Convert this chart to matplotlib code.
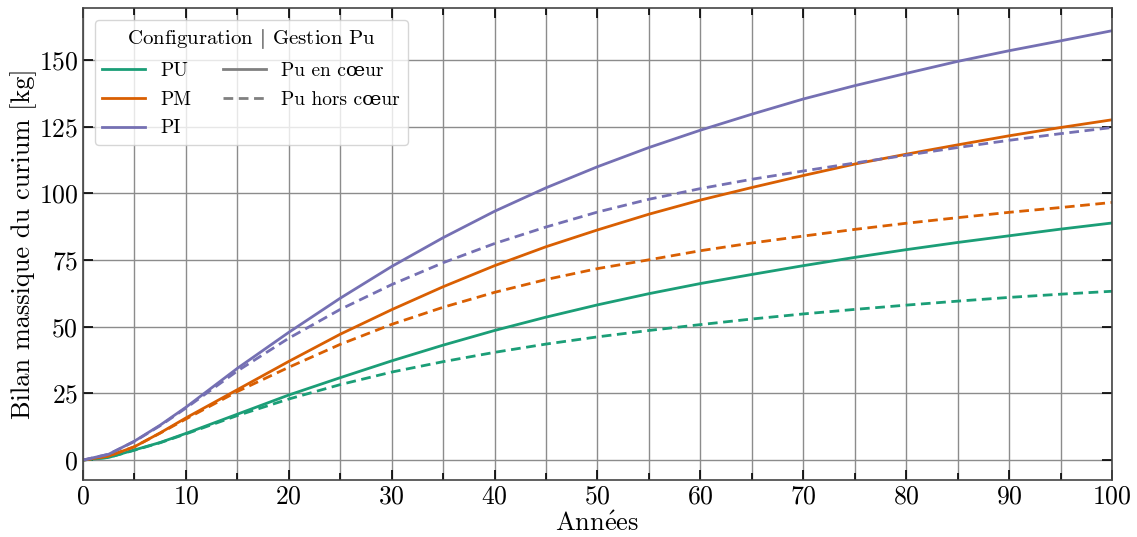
import matplotlib
matplotlib.use("Agg")
import matplotlib.pyplot as plt
from matplotlib.lines import Line2D
from matplotlib.ticker import MultipleLocator

plt.rcParams['font.family'] = ['cmr10', 'DejaVu Serif']
plt.rcParams['mathtext.fontset'] = 'cm'
plt.rcParams['axes.unicode_minus'] = False
plt.rcParams['axes.formatter.use_mathtext'] = True

# Years
annees = [0, 2.5, 5, 7.5, 10, 15, 20, 25, 30, 35, 40, 45, 50, 55, 60, 65, 70, 75, 80, 85, 90, 95, 100]

# Curium mass balance [kg], Pu in core (solid) / Pu out of core (dashed)
pu_coeur = [0, 1, 3.8, 6.6, 10, 17.2, 24.4, 30.9, 37.2, 43.1, 48.6, 53.6, 58.2, 62.4, 66.2, 69.6, 72.9, 76, 78.9, 81.6, 84.1, 86.6, 88.9]
pu_hors = [0, 1, 3.7, 6.5, 9.8, 16.7, 22.9, 28.3, 33, 36.9, 40.4, 43.5, 46.2, 48.6, 50.8, 52.9, 54.8, 56.5, 58.1, 59.6, 61, 62.2, 63.3]
pm_coeur = [0, 1.5, 5, 10.2, 15.8, 26.4, 37, 47.2, 56.4, 65, 72.9, 80, 86.3, 92.2, 97.5, 102.2, 106.7, 111, 114.7, 118.2, 121.6, 124.7, 127.6]
pm_hors = [0, 1.5, 5, 10.1, 15.4, 25.7, 34.8, 43.4, 50.9, 57.3, 62.9, 67.7, 71.8, 75.1, 78.5, 81.4, 84, 86.5, 88.8, 90.9, 92.9, 94.7, 96.6]
pi_coeur = [0, 2.2, 7.1, 13.1, 19.8, 34.4, 47.9, 60.7, 72.6, 83.4, 93.3, 102.1, 110, 117.2, 123.7, 129.7, 135.4, 140.4, 145, 149.5, 153.5, 157.2, 161]
pi_hors = [0, 2.2, 7, 12.9, 19.5, 33.4, 45.7, 56.5, 65.8, 74, 81.2, 87.4, 93, 97.8, 101.8, 105.3, 108.4, 111.4, 114.3, 117.2, 119.9, 122.4, 124.7]

configs = ["PU", "PM", "PI"]
couleurs = ["#1b9e77", "#d95f02", "#7570b3"]
series_coeur = [pu_coeur, pm_coeur, pi_coeur]
series_hors = [pu_hors, pm_hors, pi_hors]

fig = plt.figure(figsize=(11.37, 5.37), dpi=100)
ax = fig.add_axes([0.073, 0.106, 0.905, 0.879])

for c, yc, yh in zip(couleurs, series_coeur, series_hors):
    ax.plot(annees, yc, color=c, lw=2, ls="-", solid_joinstyle="round")
    ax.plot(annees, yh, color=c, lw=2, ls=(0, (3.5, 2)), dash_joinstyle="round")

ax.set_xlim(0, 100)
ax.set_ylim(-7.5, 169.5)
ax.xaxis.set_major_locator(MultipleLocator(10))
ax.xaxis.set_minor_locator(MultipleLocator(5))
ax.yaxis.set_major_locator(MultipleLocator(25))
ax.yaxis.set_minor_locator(MultipleLocator(25))

ax.grid(which="major", axis="both", color="#8c8c8c", lw=1)
ax.grid(which="minor", axis="x", color="#8c8c8c", lw=1)
ax.set_axisbelow(True)

ax.tick_params(which="both", direction="in", top=True, right=True, labelsize=18.5, colors="black")
ax.tick_params(which="major", length=7, width=1.2)
ax.tick_params(which="minor", length=5, width=1.2)
for s in ax.spines.values():
    s.set_color("#444444")
    s.set_linewidth(1.2)

ax.set_xlabel(r"Ann$\mathrm{\acute{e}}$es", fontsize=19, labelpad=2)
ax.set_ylabel("Bilan massique du curium [kg]", fontsize=19, labelpad=1)

handles = [Line2D([], [], color=c, lw=2) for c in couleurs]
handles += [Line2D([], [], color="gray", lw=2, ls="-"),
            Line2D([], [], color="gray", lw=2, ls=(0, (3.5, 2))),
            Line2D([], [], color="none")]
labels = configs + ["Pu en cœur", "Pu hors cœur", ""]
leg = ax.legend(handles, labels, ncol=2, loc="upper left", title=r"Configuration $|$ Gestion Pu",
                fontsize=14, title_fontsize=15, frameon=True, framealpha=0.8,
                edgecolor="#cccccc", handlelength=2.2, columnspacing=1.6,
                labelspacing=0.55, borderaxespad=0.6)

fig.savefig("out.png", dpi=100)
